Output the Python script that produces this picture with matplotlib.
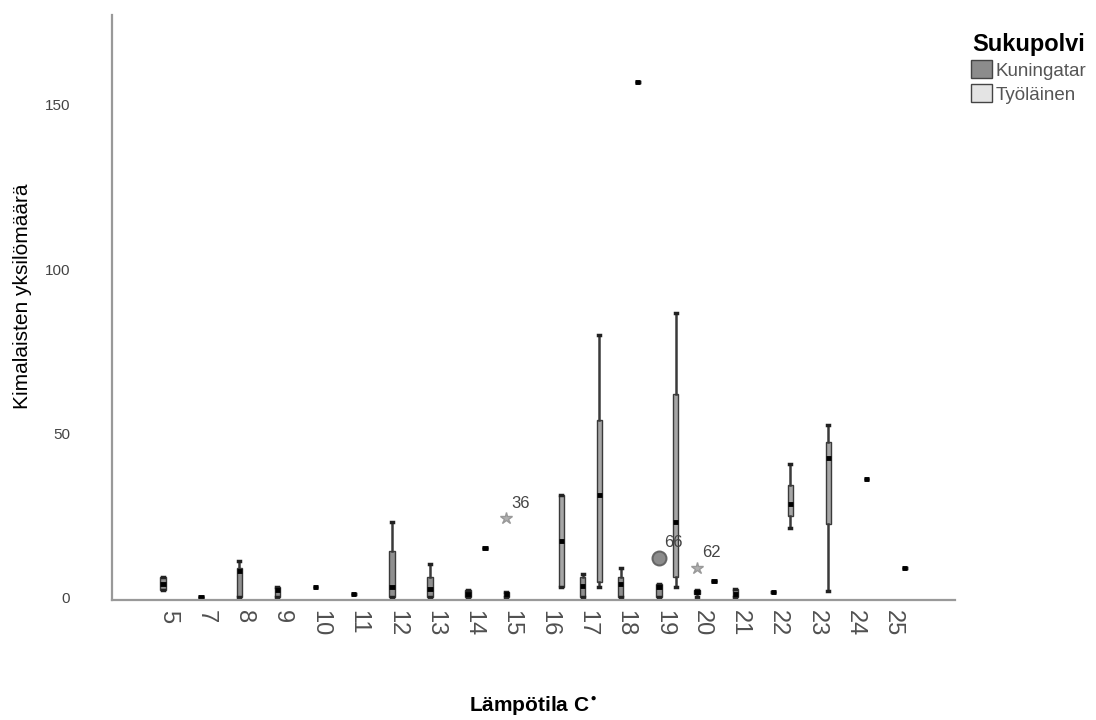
import numpy as np
import matplotlib
matplotlib.use('Agg')
import matplotlib.pyplot as plt
from matplotlib.patches import Patch

plt.rcParams['font.family'] = ['Liberation Sans', 'DejaVu Sans']

# lämpötilat (luokat)
temps = [5, 7, 8, 9, 10, 11, 12, 13, 14, 15, 16, 17, 18, 19, 20, 21, 22, 23, 24, 25]

# Kuningatar: alaviiksi, Q1, mediaani, Q3, yläviiksi (None = ei havaintoja)
k_lo = [2, 0, 0, 0, 3, 1, 0, 0, 0, 0, None, 0, 0, 0, 0, 0, 1.5, None, None, None]
k_q1 = [2, 0, 0, 0, 3, 1, 0, 0, 0, 0, None, 0, 0, 0, 1, 0, 1.5, None, None, None]
k_med = [4, 0, 8, 2, 3, 1, 3, 2.5, 1, 1, None, 3.5, 4, 3, 1.5, 1, 1.5, None, None, None]
k_q3 = [6, 0, 9, 3, 3, 1, 14, 6, 2, 1.5, None, 6, 6, 4, 2, 2.4, 1.5, None, None, None]
k_hi = [6, 0, 11, 3, 3, 1, 23, 10, 2, 1.5, None, 7, 9, 4, 2, 2.4, 1.5, None, None, None]

# Työläinen
t_lo = [None] * 8 + [15, None, 3, 3, 157, 3, 5, None, 21, 1.8, 36, 9]
t_q1 = [None] * 8 + [15, None, 3, 4.5, 157, 6, 5, None, 24.7, 22.3, 36, 9]
t_med = [None] * 8 + [15, None, 17, 31, 157, 23, 5, None, 28.4, 42.4, 36, 9]
t_q3 = [None] * 8 + [15, None, 31, 54, 157, 62, 5, None, 34, 47.3, 36, 9]
t_hi = [None] * 8 + [15, None, 31, 80, 157, 86.6, 5, None, 40.5, 52.4, 36, 9]

# poikkeavat havainnot (Kuningatar)
out_temp = [15, 19, 20]
out_val = [24, 12, 9]
out_case = ['36', '66', '62']
out_marker = ['*', 'o', '*']

k_color = '#8c8c8c'
t_color = '#e4e4e4'
off = 0.22


def make_stats(lo, q1, med, q3, hi):
    stats, pos = [], []
    for i in range(len(temps)):
        if med[i] is None:
            continue
        stats.append(dict(whislo=lo[i], q1=q1[i], med=med[i], q3=q3[i], whishi=hi[i], fliers=[]))
        pos.append(i)
    return stats, np.array(pos)


fig = plt.figure(figsize=(10.96, 7.2), dpi=100)
ax = fig.add_axes([0.102, 0.1667, 0.769, 0.8123])

for (lo, q1, med, q3, hi), sgn, col in [((k_lo, k_q1, k_med, k_q3, k_hi), -1, '#8f8f8f'),
                                         ((t_lo, t_q1, t_med, t_q3, t_hi), 1, '#a6a6a6')]:
    st, pos = make_stats(lo, q1, med, q3, hi)
    ax.bxp(st, positions=pos + sgn * off, widths=0.14, showfliers=False, patch_artist=True,
           boxprops=dict(facecolor=col, edgecolor='#3a3a3a', linewidth=1),
           whiskerprops=dict(color='#3a3a3a', linewidth=1.8),
           capprops=dict(color='#222222', linewidth=2.5),
           medianprops=dict(color='black', linewidth=3.5), capwidths=0.05)

for t, v, c, m in zip(out_temp, out_val, out_case, out_marker):
    x = temps.index(t) - off
    if m == '*':
        ax.plot(x, v, marker='*', ms=9, color='#b0b0b0', mec='#999999', ls='none')
    else:
        ax.plot(x, v, marker='o', ms=10, color='#8c8c8c', mec='#666666', mew=1.5, ls='none')
    ax.annotate(c, (x, v), xytext=(14, 15), textcoords='offset pixels',
                ha='center', va='center', fontsize=12, color='#444444')

ax.set_xlim(-1.56, 20.53)
ax.set_ylim(-0.9, 177.4)
ax.set_xticks(np.arange(len(temps)) - 0.09)
ax.set_xticklabels([str(t) for t in temps], rotation=-90, fontsize=17, color='#505050')
ax.set_yticks([0, 50, 100, 150])
ax.set_yticklabels(['0', '50', '100', '150'], fontsize=11, color='#444444')
ax.tick_params(axis='x', length=0, pad=7)
ax.tick_params(axis='y', length=0, pad=30)

for s in ['top', 'right']:
    ax.spines[s].set_visible(False)
for s in ['left', 'bottom']:
    ax.spines[s].set_color('#999999')
    ax.spines[s].set_linewidth(1.6)

ax.set_ylabel('Kimalaisten yksilömäärä', fontsize=15, color='black')
ax.yaxis.set_label_coords(-0.095, 0.52)
ax.set_xlabel('Lämpötila C$^{\\bullet}$', fontsize=15, fontweight='bold')
ax.xaxis.set_label_coords(0.5, -0.162)

handles = [Patch(facecolor=k_color, edgecolor='#444444', label='Kuningatar'),
           Patch(facecolor=t_color, edgecolor='#444444', label='Työläinen')]
leg = fig.legend(handles=handles, loc='upper left', bbox_to_anchor=(0.871, 0.978),
                 frameon=False, title='Sukupolvi', fontsize=13.5, handlelength=1.1,
                 handleheight=1.1, handletextpad=0.2, labelspacing=0.25)
leg.get_title().set_fontsize(17)
leg.get_title().set_fontweight('bold')
for txt in leg.get_texts():
    txt.set_color('#555555')

fig.savefig('out.png', dpi=100)
